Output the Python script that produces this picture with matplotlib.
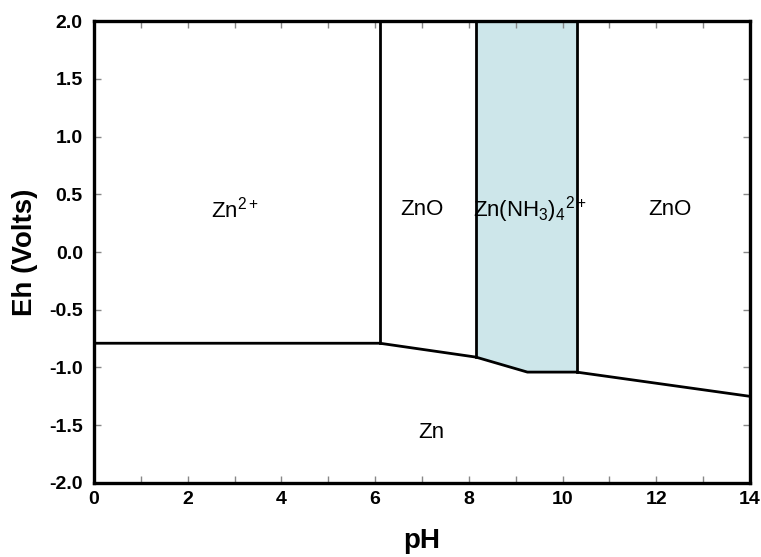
import matplotlib.pyplot as plt
from matplotlib.ticker import MultipleLocator, FormatStrFormatter

plt.rcParams['font.family'] = ['Liberation Sans', 'DejaVu Sans']
plt.rcParams['mathtext.fontset'] = 'custom'
plt.rcParams['mathtext.rm'] = 'Liberation Sans'
plt.rcParams['mathtext.it'] = 'Liberation Sans'
plt.rcParams['axes.unicode_minus'] = False

# Zn / solution boundary (pH, Eh)
low_ph = [0, 6.1, 8.15, 9.25, 10.3, 14]
low_eh = [-0.79, -0.79, -0.91, -1.04, -1.04, -1.25]
# vertical boundaries (pH, bottom Eh)
vert_ph = [6.1, 8.15, 10.3]
vert_eh = [-0.79, -0.91, -1.04]
# shaded ammine field
amm_ph = [8.15, 9.25, 10.3]
amm_eh = [-0.91, -1.04, -1.04]

labels = ['Zn$^{2+}$', 'ZnO', 'Zn(NH$_3$)$_4$$^{2+}$', 'ZnO', 'Zn']
lab_ph = [3.0, 7.0, 9.3, 12.3, 7.2]
lab_eh = [0.37, 0.37, 0.37, 0.37, -1.56]

fig = plt.figure(figsize=(7.61, 5.57), dpi=100)
ax = fig.add_axes([0.1235, 0.133, 0.862, 0.829])

ax.fill_between(amm_ph, amm_eh, 2.0, color='#cde6ea', linewidth=0)
ax.plot(low_ph, low_eh, color='black', lw=2.0)
for p, e in zip(vert_ph, vert_eh):
    ax.plot([p, p], [e, 2.0], color='black', lw=2.0)

for t, p, e in zip(labels, lab_ph, lab_eh):
    ax.text(p, e, t, fontsize=16, ha='center', va='center')

ax.set_xlim(0, 14)
ax.set_ylim(-2.0, 2.0)
ax.xaxis.set_major_locator(MultipleLocator(2))
ax.xaxis.set_minor_locator(MultipleLocator(1))
ax.yaxis.set_major_locator(MultipleLocator(0.5))
ax.yaxis.set_major_formatter(FormatStrFormatter('%.1f'))
ax.tick_params(which='both', direction='in', top=True, right=True,
               color='#888888', length=5, width=1, labelsize=14)
ax.tick_params(axis='x', pad=6)
ax.tick_params(axis='y', pad=8)
for lab in ax.get_xticklabels() + ax.get_yticklabels():
    lab.set_fontweight('bold')
for s in ax.spines.values():
    s.set_linewidth(2.4)

ax.set_xlabel('pH', fontsize=20, fontweight='bold', labelpad=14)
ax.set_ylabel('Eh (Volts)', fontsize=20, fontweight='bold', labelpad=8)

fig.savefig('out.png', dpi=100)
